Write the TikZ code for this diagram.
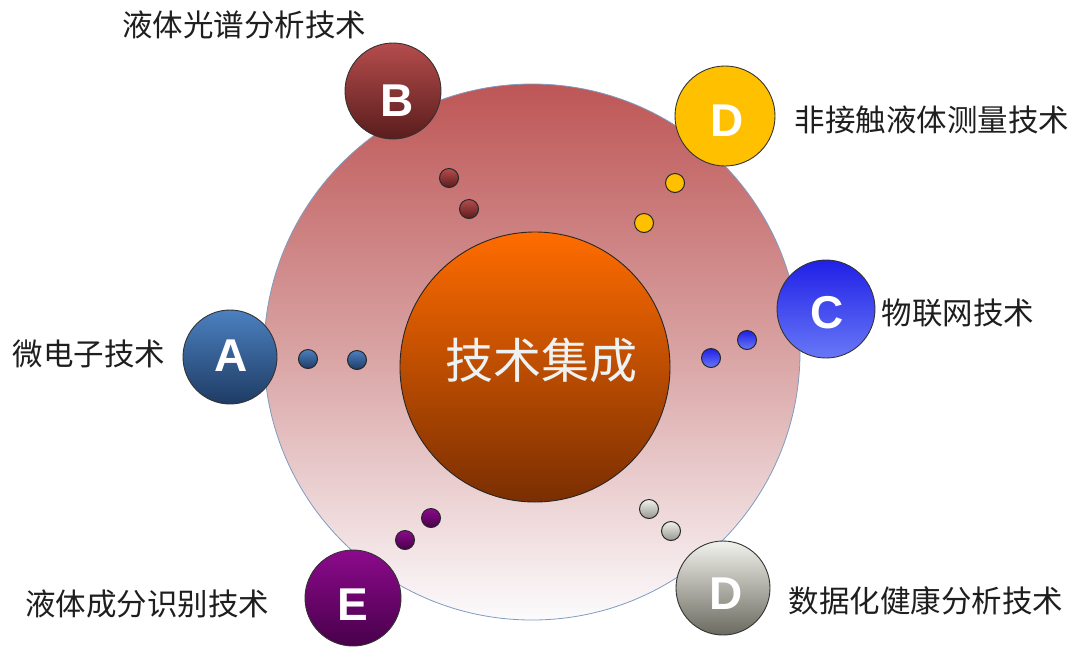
\documentclass[tikz,border=0pt]{standalone}
\usepackage{fontspec}
\setmainfont{Liberation Sans}
\newfontfamily\cjk{Noto Sans CJK SC}
\usetikzlibrary{shadings}
\definecolor{bigtop}{HTML}{BE5656}
\definecolor{bigmid}{HTML}{D9A3A3}
\definecolor{bigbot}{HTML}{FCFBFD}
\definecolor{bigline}{HTML}{7F9CC0}
\definecolor{coretop}{HTML}{FF6C00}
\definecolor{corebot}{HTML}{7A2E02}
\definecolor{atop}{HTML}{4C80C0}
\definecolor{abot}{HTML}{1E3C64}
\definecolor{btop}{HTML}{B54C4C}
\definecolor{bbot}{HTML}{5A1C1C}
\definecolor{dgold}{HTML}{FFC000}
\definecolor{ctop}{HTML}{2020E6}
\definecolor{cbot}{HTML}{6878F6}
\definecolor{etop}{HTML}{8C0A8C}
\definecolor{ebot}{HTML}{48004A}
\definecolor{gtop}{HTML}{F2F2EC}
\definecolor{gbot}{HTML}{6A6A60}
\definecolor{labelc}{HTML}{1E1E1E}
\definecolor{coretxt}{HTML}{EEF2F2}
\tikzset{
  ball/.style={circle, draw=black!80, line width=0.9pt, inner sep=0pt},
  dotball/.style={circle, draw=black!85, line width=1pt, inner sep=0pt, minimum size=19pt},
  letter/.style={text=white, font=\fontsize{46}{46}\selectfont\bfseries, inner sep=0pt},
  lab/.style={text=labelc, font=\fontsize{30.5}{30.5}\selectfont\cjk, inner sep=0pt},
}
\begin{document}
\begin{tikzpicture}[x=1pt, y=-1pt]
\useasboundingbox (0,0) rectangle (1078,649);
% big circle
\node[circle, minimum size=536pt, inner sep=0pt, draw=bigline, line width=0.8pt,
  top color=bigtop, bottom color=bigbot, middle color=bigmid] (big) at (532,352) {};
% core
\node[circle, minimum size=270pt, inner sep=0pt, draw=black!85, line width=0.9pt,
  top color=coretop, bottom color=corebot] (core) at (535,367) {};
\node[text=coretxt, font=\fontsize{48}{48}\selectfont\cjk, inner sep=0pt] (coretext) at (541,360) {技术集成};
% dots
\node[dotball, top color=atop, bottom color=abot] (a1) at (308,359) {};
\node[dotball, top color=atop, bottom color=abot] (a2) at (357,360) {};
\node[dotball, top color=btop, bottom color=bbot] (b1) at (449,178) {};
\node[dotball, top color=btop, bottom color=bbot] (b2) at (469,209) {};
\node[dotball, fill=dgold] (d1) at (675,183) {};
\node[dotball, fill=dgold] (d2) at (644,223) {};
\node[dotball, top color=ctop, bottom color=cbot] (c1) at (747,340) {};
\node[dotball, top color=ctop, bottom color=cbot] (c2) at (711,358) {};
\node[dotball, top color=etop, bottom color=ebot] (e1) at (431,518) {};
\node[dotball, top color=etop, bottom color=ebot] (e2) at (405,540) {};
\node[dotball, top color=gtop, bottom color=gbot!70] (g1) at (649,509) {};
\node[dotball, top color=gtop, bottom color=gbot!70] (g2) at (671,531) {};
% outer balls
\node[ball, minimum size=94pt, top color=atop, bottom color=abot] (A) at (230,357) {};
\node[letter] (Al) at (231,356) {A};
\node[ball, minimum size=96pt, top color=btop, bottom color=bbot] (B) at (393,91) {};
\node[letter] (Bl) at (397,101) {B};
\node[ball, minimum size=100pt, fill=dgold] (D1) at (725,116) {};
\node[letter] (D1l) at (727,121) {D};
\node[ball, minimum size=98pt, top color=ctop, bottom color=cbot] (C) at (826,309) {};
\node[letter] (Cl) at (827,313) {C};
\node[ball, minimum size=96pt, top color=etop, bottom color=ebot] (E) at (353,598) {};
\node[letter] (El) at (353,605) {E};
\node[ball, minimum size=94pt, top color=gtop, bottom color=gbot] (D2) at (723,588) {};
\node[letter] (D2l) at (726,594) {D};
% labels
\node[lab] (lB) at (244,25) {液体光谱分析技术};
\node[lab] (lD1) at (932,120) {非接触液体测量技术};
\node[lab] (lC) at (958,313) {物联网技术};
\node[lab] (lA) at (89,354) {微电子技术};
\node[lab] (lE) at (147,604) {液体成分识别技术};
\node[lab] (lD2) at (926,601) {数据化健康分析技术};
\end{tikzpicture}
\end{document}
